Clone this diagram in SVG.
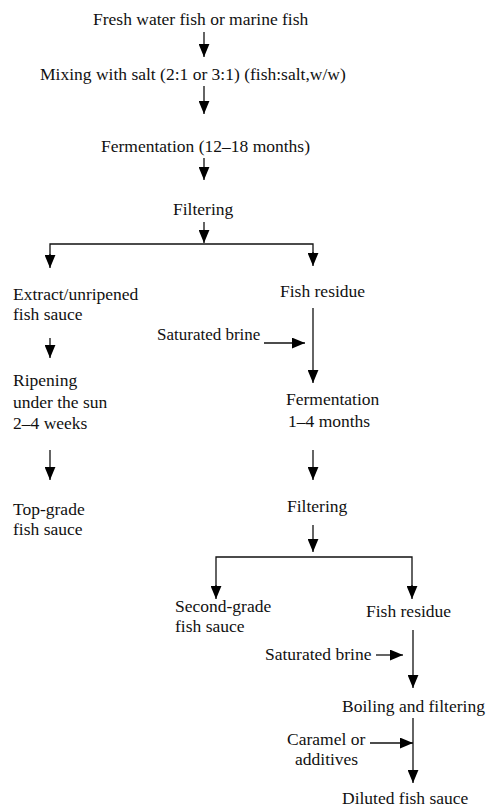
<svg xmlns="http://www.w3.org/2000/svg" width="491" height="810" viewBox="0 0 491 810">
<defs>
<marker id="ah" viewBox="0 0 12 10" refX="12" refY="5" markerWidth="13" markerHeight="11" markerUnits="userSpaceOnUse" orient="auto">
<path d="M0,0 L12,5 L0,10 Z" fill="#000"/>
</marker>
</defs>
<style>
text{font-family:"Liberation Serif","Times New Roman",serif;font-size:17.5px;fill:#111}
.c{stroke:#111;stroke-width:1.3;fill:none}
.d{marker-end:url(#ah)}
</style>
<rect width="491" height="810" fill="#fff"/>
<g id="connectors">
<line class="c d" x1="204" y1="32" x2="204" y2="57"/>
<line class="c d" x1="204" y1="86" x2="204" y2="114"/>
<line class="c d" x1="204" y1="158" x2="204" y2="180"/>
<line class="c d" x1="204" y1="222" x2="204" y2="243"/>
<polyline class="c" points="50,256 50,244 313,244 313,254"/>
<line class="c d" x1="50" y1="254" x2="50" y2="268"/>
<line class="c d" x1="313" y1="252" x2="313" y2="266"/>
<line class="c d" x1="50" y1="338" x2="50" y2="358"/>
<line class="c d" x1="50" y1="450" x2="50" y2="480"/>
<line class="c d" x1="313" y1="308" x2="313" y2="383"/>
<line class="c d" x1="264" y1="343" x2="305" y2="343"/>
<line class="c d" x1="313" y1="450" x2="313" y2="480"/>
<line class="c d" x1="313" y1="525" x2="313" y2="552"/>
<polyline class="c" points="216,590 216,557 412,557 412,590"/>
<line class="c d" x1="216" y1="585" x2="216" y2="599"/>
<line class="c d" x1="412" y1="585" x2="412" y2="599"/>
<line class="c d" x1="413" y1="630" x2="413" y2="688"/>
<line class="c d" x1="376" y1="655" x2="403" y2="655"/>
<line class="c d" x1="413" y1="718" x2="413" y2="783"/>
<line class="c d" x1="370" y1="743" x2="413" y2="743"/>
</g>
<g id="n1"><text x="93" y="25">Fresh water fish or marine fish</text></g>
<g id="n2"><text x="40" y="80">Mixing with salt (2:1 or 3:1) (fish:salt,w/w)</text></g>
<g id="n3"><text x="101" y="152">Fermentation (12–18 months)</text></g>
<g id="n4"><text x="173" y="215">Filtering</text></g>
<g id="n5"><text x="13" y="300">Extract/unripened</text><text x="13" y="320">fish  sauce</text></g>
<g id="n6"><text x="13" y="386">Ripening</text><text x="13" y="408">under the sun</text><text x="13" y="429">2–4 weeks</text></g>
<g id="n7"><text x="13" y="515">Top-grade</text><text x="13" y="535">fish sauce</text></g>
<g id="n8"><text x="280" y="297">Fish  residue</text></g>
<g id="n9"><text x="157" y="340" style="font-size:17px">Saturated brine</text></g>
<g id="n10"><text x="286" y="405">Fermentation</text><text x="288" y="427">1–4 months</text></g>
<g id="n11"><text x="287" y="512">Filtering</text></g>
<g id="n12"><text x="175" y="612">Second-grade</text><text x="175" y="632">fish  sauce</text></g>
<g id="n13"><text x="366" y="617">Fish residue</text></g>
<g id="n14"><text x="265" y="660">Saturated brine</text></g>
<g id="n15"><text x="342" y="712">Boiling and  filtering</text></g>
<g id="n16"><text x="287" y="745">Caramel or</text><text x="295" y="765">additives</text></g>
<g id="n17"><text x="342" y="804">Diluted fish sauce</text></g>
</svg>
